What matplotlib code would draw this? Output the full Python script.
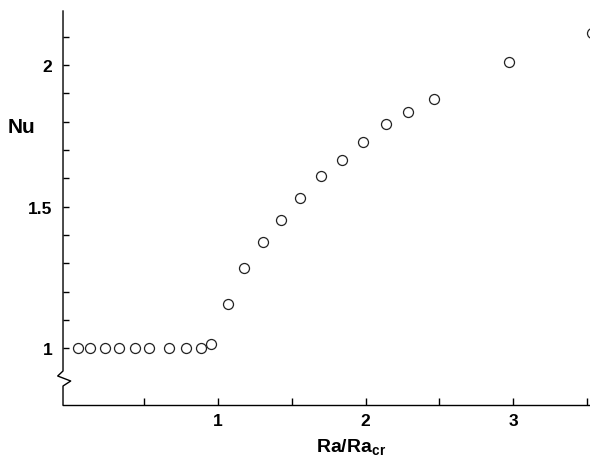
import numpy as np
import matplotlib
matplotlib.use("Agg")
import matplotlib.pyplot as plt
from matplotlib.ticker import FixedLocator, FuncFormatter

plt.rcParams['font.family'] = ['Liberation Sans', 'DejaVu Sans']
plt.rcParams['font.weight'] = 'bold'
plt.rcParams['mathtext.fontset'] = 'custom'
plt.rcParams['mathtext.bf'] = 'Liberation Sans:bold'
plt.rcParams['mathtext.rm'] = 'Liberation Sans:bold'

# Ra/Ra_cr vs Nu
ra_ratio = [0.053, 0.132, 0.234, 0.331, 0.437, 0.534, 0.670, 0.781, 0.883, 0.951,
            1.070, 1.178, 1.303, 1.427, 1.556, 1.696, 1.839, 1.981, 2.137, 2.290,
            2.466, 2.973, 3.535]
nu = [1.0, 1.0, 1.0, 1.0, 1.0, 1.0, 1.0, 1.0, 1.0, 1.014,
      1.155, 1.283, 1.376, 1.453, 1.529, 1.607, 1.663, 1.727, 1.792, 1.834,
      1.881, 2.010, 2.113]

x_ticks = [0.5, 1, 1.5, 2, 2.5, 3, 3.5]
x_labels = {1: "1", 2: "2", 3: "3"}
y_ticks = [1.0, 1.1, 1.2, 1.3, 1.4, 1.5, 1.6, 1.7, 1.8, 1.9, 2.0, 2.1]
y_labels = {1.0: "1", 1.5: "1.5", 2.0: "2"}

fig = plt.figure(figsize=(5.9, 4.6), dpi=100)
ax = fig.add_axes([0.1068, 0.1174, 0.8932, 0.8565])

ax.plot(ra_ratio, nu, linestyle='none', marker='o', markersize=7.2,
        markerfacecolor='white', markeredgecolor='#222222', markeredgewidth=0.9)

ax.set_xlim(-0.05, 3.52)
ax.set_ylim(0.8, 2.19)

for side in ['top', 'right', 'left']:
    ax.spines[side].set_visible(False)
ax.spines['bottom'].set_linewidth(1.0)

# left axis drawn by hand with the break zigzag
brk_x = [0, 0, -0.0101, 0.0146, 0, 0]
brk_y = [1, 0.0863, 0.0736, 0.0609, 0.0482, 0]
ax.plot(brk_x, brk_y, color='black', linewidth=1.0, transform=ax.transAxes,
        clip_on=False)

ax.xaxis.set_major_locator(FixedLocator(x_ticks))
ax.xaxis.set_major_formatter(FuncFormatter(lambda v, p: x_labels.get(round(v, 2), "")))
ax.yaxis.set_major_locator(FixedLocator(y_ticks))
ax.yaxis.set_major_formatter(FuncFormatter(lambda v, p: y_labels.get(round(v, 2), "")))

ax.tick_params(axis='x', direction='in', length=5, width=1.0, pad=6, labelsize=12.5)
ax.tick_params(axis='y', direction='in', length=4.5, width=1.0, pad=7.5, labelsize=12.5)
for lab in ax.get_xticklabels() + ax.get_yticklabels():
    lab.set_fontweight('bold')

ax.set_xlabel(r'Ra/Ra$_{\mathbf{cr}}$', fontsize=14, fontweight='bold')
ax.xaxis.set_label_coords(0.546, -0.08)
ax.set_ylabel('Nu', fontsize=15, fontweight='bold', rotation=0, ha='center', va='center')
ax.yaxis.set_label_coords(-0.078, 0.708)

fig.savefig('out.png', dpi=100)
